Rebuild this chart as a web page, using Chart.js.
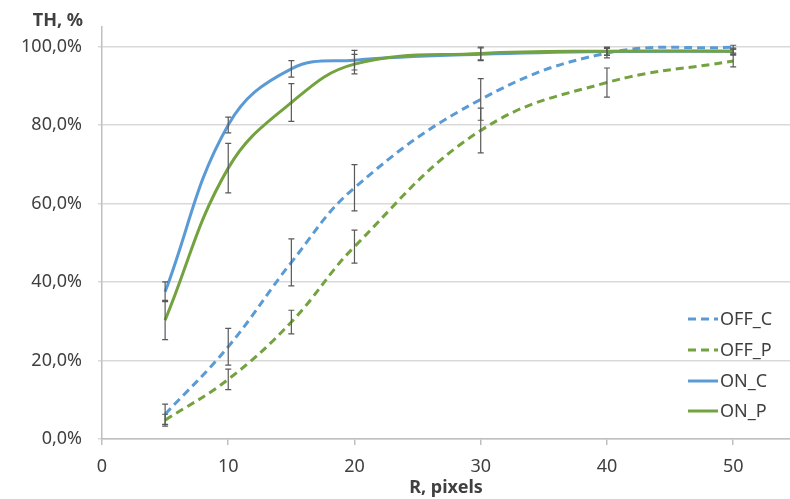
<!DOCTYPE html>
<html><head><meta charset="utf-8">
<script src="https://cdn.jsdelivr.net/npm/chart.js@4.4.0/dist/chart.umd.min.js"></script>
<style>html,body{margin:0;padding:0;background:#fff;overflow:hidden}#wrap{width:790px;height:499px;position:relative}</style>
</head><body><div id="wrap"><canvas id="c" width="790" height="499"></canvas></div>
<script>
const xValues = [5, 10, 15, 20, 30, 40, 50];
const seriesNames = ['OFF_C', 'OFF_P', 'ON_C', 'ON_P'];
const offC = [6.3, 23.5, 45, 64, 86.5, 98.3, 99.8];
const offP = [4.8, 15.2, 29.8, 49, 78.6, 90.8, 96.3];
const onC = [37.5, 80, 94.3, 96.5, 98, 98.7, 98.8];
const onP = [30.3, 69, 85.7, 95.5, 98.2, 98.8, 98.8];
const offCErr = [2.6, 4.7, 6, 5.9, 5.3, 1.2, 0.5];
const offPErr = [1.5, 2.6, 3, 4.2, 5.7, 3.7, 1.5];
const onCErr = [2.5, 2, 2.1, 2.5, 1.6, 1, 0.5];
const onPErr = [5, 6.3, 4.8, 2.5, 1.6, 1, 0.8];
const xTicks = [0, 10, 20, 30, 40, 50];
const yTicks = [0, 20, 40, 60, 80, 100];
const yTitle = 'TH, %';
const xTitle = 'R, pixels';

const BLUE = '#5B9BD5', GREEN = '#73A23F', TXT = '#404040';
const FONT = 'Noto Sans';
const values = [offC, offP, onC, onP];
const errs = [offCErr, offPErr, onCErr, onPErr];
const colors = [BLUE, GREEN, BLUE, GREEN];
const dashed = [true, true, false, false];

const datasets = seriesNames.map((n, i) => ({
  label: n,
  data: xValues.map((x, j) => ({x: x, y: values[i][j]})),
  showLine: true,
  borderColor: colors[i],
  backgroundColor: colors[i],
  borderWidth: 3,
  borderDash: dashed[i] ? [8, 5] : [],
  pointRadius: 0,
  tension: 0.4,
  order: 4 - i,
  errs: errs[i]
}));

const extras = {
  id: 'extras',
  afterDatasetsDraw(chart) {
    const ctx = chart.ctx, xs = chart.scales.x, ys = chart.scales.y;
    ctx.save();
    ctx.strokeStyle = '#595959';
    ctx.lineWidth = 1.2;
    datasets.forEach(ds => {
      ds.data.forEach((p, j) => {
        const e = ds.errs[j];
        const px = xs.getPixelForValue(p.x);
        const y1 = ys.getPixelForValue(p.y + e), y2 = ys.getPixelForValue(p.y - e);
        ctx.beginPath();
        ctx.moveTo(px, y1); ctx.lineTo(px, y2);
        ctx.moveTo(px - 3, y1); ctx.lineTo(px + 3, y1);
        ctx.moveTo(px - 3, y2); ctx.lineTo(px + 3, y2);
        ctx.stroke();
      });
    });
    ctx.restore();
  },
  afterDraw(chart) {
    const ctx = chart.ctx;
    ctx.save();
    ctx.fillStyle = TXT;
    ctx.font = 'bold 18px "' + FONT + '"';
    ctx.textAlign = 'right';
    ctx.textBaseline = 'middle';
    ctx.fillText(yTitle, 83, 21);
    // legend
    const ly = [319, 350, 381, 411];
    ctx.font = '18px "' + FONT + '"';
    ctx.textAlign = 'left';
    datasets.forEach((ds, i) => {
      ctx.strokeStyle = ds.borderColor;
      ctx.lineWidth = 3;
      ctx.setLineDash(ds.borderDash);
      ctx.beginPath();
      ctx.moveTo(688, ly[i]); ctx.lineTo(718, ly[i]);
      ctx.stroke();
      ctx.setLineDash([]);
      ctx.fillStyle = TXT;
      ctx.fillText(ds.label, 720, ly[i] + 1);
    });
    ctx.restore();
  }
};

new Chart(document.getElementById('c'), {
  type: 'scatter',
  data: {datasets: datasets},
  options: {
    responsive: false,
    animation: false,
    devicePixelRatio: 1,
    layout: {padding: {top: 26, right: 0, left: 0, bottom: 0}},
    plugins: {legend: {display: false}, tooltip: {enabled: false}},
    scales: {
      x: {
        type: 'linear', min: 0, max: 54.5,
        afterBuildTicks: s => { s.ticks = xTicks.map(v => ({value: v})); },
        afterFit: s => { s.height = 60; },
        grid: {drawOnChartArea: false, drawTicks: true, tickLength: 6, color: '#bfbfbf', lineWidth: 1.5},
        border: {color: '#bfbfbf', width: 1.5},
        ticks: {font: {family: FONT, size: 18}, color: TXT, padding: 11, maxRotation: 0, autoSkip: false},
        title: {display: true, text: xTitle, font: {family: FONT, size: 18, weight: 'bold'}, color: TXT, padding: 0}
      },
      y: {
        type: 'linear', min: 0, max: 105,
        afterBuildTicks: s => { s.ticks = yTicks.map(v => ({value: v})); },
        afterFit: s => { s.width = 102; },
        grid: {color: '#d9d9d9', lineWidth: 1.5, tickLength: 4},
        border: {color: '#bfbfbf', width: 1.5},
        ticks: {font: {family: FONT, size: 18}, color: TXT, padding: 16,
          callback: v => v.toFixed(1).replace('.', ',') + '%'}
      }
    }
  },
  plugins: [extras]
});
</script></body></html>
